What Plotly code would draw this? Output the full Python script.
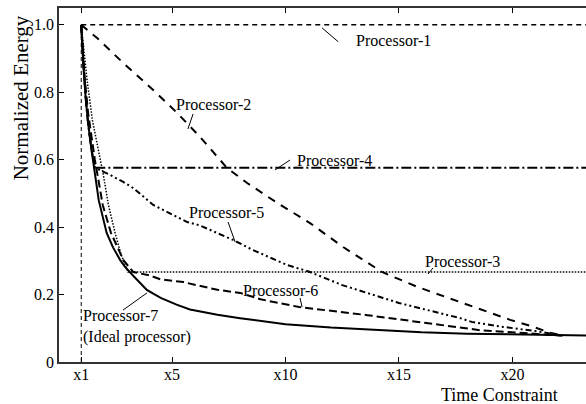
import plotly.graph_objects as go

# ---- data ----
p1_x = [1, 23.5]
p1_y = [1.0, 1.0]

mark_x = [1, 1]
mark_y = [0.0, 1.0]

p2_x = [1, 1.7, 2.85, 4.17, 5.22, 6.23, 7.43, 8.31, 9.63, 11.08, 12.54, 14.25, 15.8, 17.4, 19.0, 19.9, 20.8, 21.6, 22.2]
p2_y = [1.0, 0.961, 0.887, 0.807, 0.739, 0.668, 0.575, 0.531, 0.472, 0.412, 0.341, 0.267, 0.223, 0.184, 0.147, 0.125, 0.107, 0.088, 0.078]

p3_x = [1, 1.25, 1.49, 1.75, 1.96, 2.2, 2.49, 2.75, 3.06, 23.5]
p3_y = [1.0, 0.84, 0.718, 0.63, 0.56, 0.465, 0.383, 0.32, 0.267, 0.267]

p4_x = [1, 1.1, 1.2, 1.3, 1.45, 1.61, 23.5]
p4_y = [1.0, 0.87, 0.78, 0.71, 0.63, 0.576, 0.576]

p5_x = [1, 1.1, 1.2, 1.3, 1.45, 1.61, 2.27, 2.85, 3.29, 4.17, 5.67, 6.23, 7.69, 8.57, 10.06, 11.08, 12.5, 14.3, 15.0, 17.7, 18.2, 19.6, 21.0, 22.2]
p5_y = [1.0, 0.87, 0.78, 0.71, 0.63, 0.576, 0.555, 0.534, 0.516, 0.466, 0.415, 0.405, 0.362, 0.332, 0.288, 0.267, 0.228, 0.19, 0.175, 0.13, 0.119, 0.104, 0.092, 0.078]

p6_x = [1, 1.1, 1.3, 1.6, 1.95, 2.31, 2.85, 3.29, 4.0, 4.5, 5.5, 7.0, 8.0, 8.9, 10.6, 13.6, 16.5, 18.6, 19.8, 21.0, 22.2]
p6_y = [1.0, 0.88, 0.74, 0.6, 0.465, 0.383, 0.303, 0.267, 0.257, 0.245, 0.237, 0.214, 0.205, 0.186, 0.163, 0.139, 0.113, 0.094, 0.089, 0.084, 0.078]

p7_x = [1, 1.05, 1.1, 1.2, 1.3, 1.45, 1.6, 1.77, 2.12, 2.4, 2.71, 2.93, 3.3, 3.89, 4.5, 5.2, 5.79, 7, 8, 9, 10, 12, 14, 16, 18, 20, 22.2, 23.5]
p7_y = [1.0, 0.93, 0.87, 0.78, 0.71, 0.63, 0.56, 0.48, 0.383, 0.34, 0.303, 0.282, 0.255, 0.214, 0.19, 0.17, 0.156, 0.14, 0.13, 0.12, 0.112, 0.102, 0.095, 0.088, 0.084, 0.081, 0.078, 0.078]

x_tick_vals = [1, 5, 10, 15, 20]
x_tick_text = ["x1", "x5", "x10", "x15", "x20"]
y_tick_vals = [0, 0.2, 0.4, 0.6, 0.8, 1.0]
y_tick_text = ["0", "0.2", "0.4", "0.6", "0.8", "1.0"]

# labels: text, text position, leader line start, leader line end
label_text = ["Processor-1", "Processor-2", "Processor-4", "Processor-5", "Processor-3", "Processor-6",
              "Processor-7<br>(Ideal processor)"]
label_pos = [(14.74, 0.953), (6.81, 0.763), (12.18, 0.599), (7.39, 0.442), (17.78, 0.297), (9.77, 0.211), (1.0, 0.104)]
label_anchor = ["center", "center", "center", "center", "center", "center", "left"]
leader_from = [(11.61, 0.991), (5.93, 0.736), (10.2, 0.599), (7.47, 0.415), (16.5, 0.279), (10.64, 0.19), (2.84, 0.154)]
leader_to = [(12.32, 0.95), (5.70, 0.691), (9.54, 0.57), (7.78, 0.356), (16.28, 0.261), (10.73, 0.163), (3.90, 0.205)]

FONT = "Liberation Serif"

fig = go.Figure()

def add(x, y, dash, width):
    fig.add_trace(go.Scatter(x=x, y=y, mode="lines", showlegend=False, hoverinfo="skip",
                             line=dict(color="black", width=width, dash=dash)))

add(mark_x, mark_y, "4px,3px", 1)
add(p1_x, p1_y, "5px,4px", 1.5)
add(p3_x, p3_y, "1.5px,1.5px", 1.5)
add(p4_x, p4_y, "10px,3px,2px,3px", 2)
add(p5_x, p5_y, "6px,3px,2px,3px,2px,3px", 2)
add(p2_x, p2_y, "8px,7px", 2)
add(p6_x, p6_y, "8px,4px", 2)
add(p7_x, p7_y, "solid", 2)

shapes = []
for (x0, y0), (x1, y1) in zip(leader_from, leader_to):
    shapes.append(dict(type="line", xref="x", yref="y", x0=x0, y0=y0, x1=x1, y1=y1,
                       line=dict(color="black", width=1)))

annotations = []
for t, (x, y), anc in zip(label_text, label_pos, label_anchor):
    annotations.append(dict(x=x, y=y, xref="x", yref="y", text=t, showarrow=False,
                            xanchor=anc, yanchor="middle", align="left",
                            font=dict(family=FONT, size=16, color="black")))

annotations.append(dict(x=-0.072, y=0.745, xref="paper", yref="paper", text="Normalized Energy",
                        textangle=-90, showarrow=False, xanchor="center", yanchor="middle",
                        font=dict(family=FONT, size=21, color="black")))
annotations.append(dict(x=0.835, y=-0.093, xref="paper", yref="paper", text="Time Constraint",
                        showarrow=False, xanchor="center", yanchor="middle",
                        font=dict(family=FONT, size=18, color="black")))

fig.update_layout(
    width=586, height=404,
    margin=dict(l=59, r=0, t=8, b=42),
    paper_bgcolor="white", plot_bgcolor="white",
    shapes=shapes, annotations=annotations,
    font=dict(family=FONT, color="black"),
    xaxis=dict(range=[0.02, 23.24], tickvals=x_tick_vals, ticktext=x_tick_text,
               ticks="inside", ticklen=5, tickwidth=1, tickcolor="black",
               showline=True, linecolor="#333", linewidth=1.5, mirror="ticks",
               ticklabelstandoff=-3,
               showgrid=False, zeroline=False, tickfont=dict(family=FONT, size=16, color="black")),
    yaxis=dict(range=[0, 1.05], tickvals=y_tick_vals, ticktext=y_tick_text,
               ticks="inside", ticklen=5, tickwidth=1, tickcolor="black",
               showline=True, linecolor="#333", linewidth=1.5, mirror=False,
               showgrid=False, zeroline=False, tickfont=dict(family=FONT, size=16, color="black")),
)

fig.write_html("out.html", config={"displayModeBar": False},
               post_script="document.body.style.margin='0';document.body.style.overflow='hidden';")
